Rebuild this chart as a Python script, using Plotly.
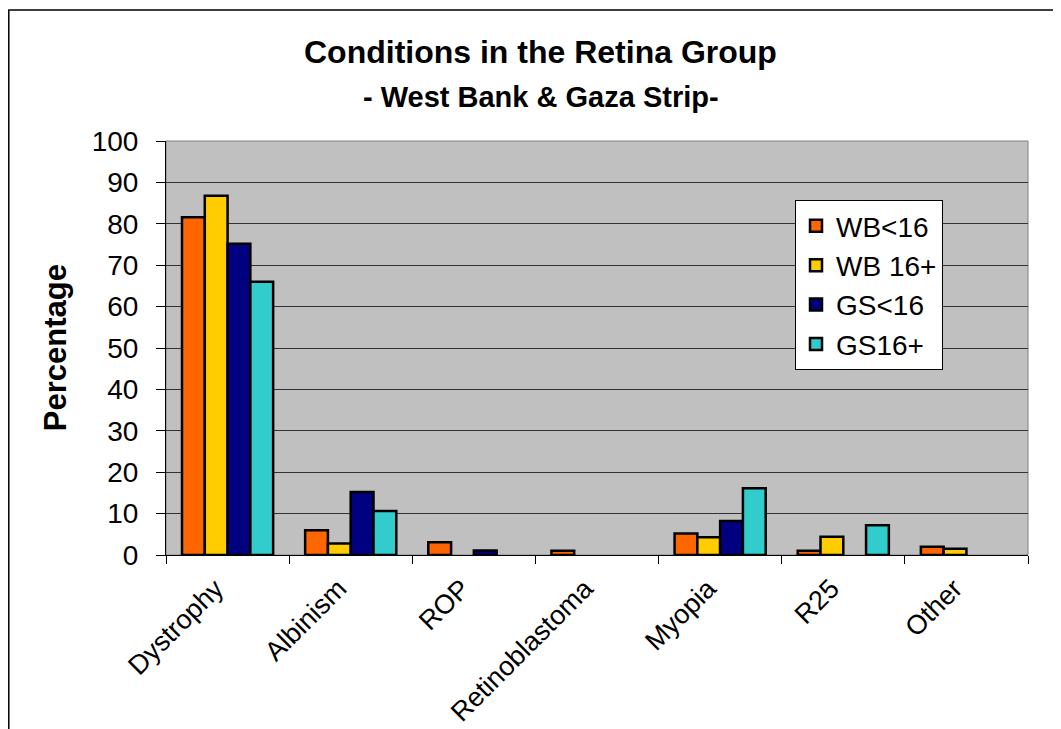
import plotly.graph_objects as go

categories = ["Dystrophy", "Albinism", "ROP", "Retinoblastoma", "Myopia", "R25", "Other"]
series_names = ["WB<16", "WB 16+", "GS<16", "GS16+"]
wb_u16 = [81.6, 6.0, 3.1, 1.0, 5.2, 1.0, 2.0]
wb_16p = [86.8, 2.8, None, None, 4.3, 4.4, 1.5]
gs_u16 = [75.2, 15.2, 1.1, None, 8.2, None, None]
gs_16p = [66.0, 10.6, None, None, 16.1, 7.2, None]
colors = ["#FF6600", "#FFCC00", "#000080", "#33CCCC"]
y_ticks = list(range(0, 101, 10))

FONT = "Arial, Liberation Sans, sans-serif"

W, H = 1053, 721
L, T = 158, 133
R = W - (1028 - 8)
B = H - (554.7 - 8)
PH = H - T - B
PW = W - L - R

def px_to_paper_x(sx):
    return (sx - 8 - L) / PW

def px_to_paper_y(sy):
    return (H - B - (sy - 8)) / PH

fig = go.Figure()
for name, vals, col in zip(series_names, [wb_u16, wb_16p, gs_u16, gs_16p], colors):
    fig.add_trace(go.Bar(
        name=name, x=categories, y=vals,
        marker=dict(color=col, line=dict(color="black", width=2.5)),
    ))

fig.update_layout(
    width=W, height=H,
    margin=dict(l=L, r=R, t=T, b=B, pad=0, autoexpand=False),
    paper_bgcolor="white",
    plot_bgcolor="#C0C0C0",
    barmode="group",
    bargap=0.26,
    bargroupgap=0,
    font=dict(family=FONT, color="black"),
    xaxis=dict(
        automargin=False,
        tickangle=-45,
        tickfont=dict(size=27, family=FONT),
        ticks="outside", ticklen=8, tickcolor="black",
        tickson="boundaries",
        ticklabelstandoff=6,
        ticklabelshift=-12,
        showline=True, linecolor="black", linewidth=1,
        showgrid=False,
    ),
    yaxis=dict(
        automargin=False,
        range=[0, 100],
        tickvals=y_ticks,
        tickfont=dict(size=28, family=FONT),
        ticks="outside", ticklen=9, tickcolor="black",
        ticklabelstandoff=12,
        showline=True, linecolor="black", linewidth=1,
        showgrid=True, gridcolor="#333333", gridwidth=1,
        zeroline=False,
    ),
    legend=dict(
        x=px_to_paper_x(795), y=px_to_paper_y(200), xanchor="left", yanchor="top",
        bgcolor="white", bordercolor="black", borderwidth=1,
        font=dict(size=28, family=FONT),
        tracegroupgap=2,
        itemwidth=30,
    ),
    annotations=[
        dict(text="<b>Conditions in the Retina Group</b>", xref="paper", yref="paper",
             x=px_to_paper_x(540), y=px_to_paper_y(52), xanchor="center", yanchor="middle",
             showarrow=False, font=dict(size=32, family=FONT, color="black")),
        dict(text="<b>- West Bank &amp; Gaza Strip-</b>", xref="paper", yref="paper",
             x=px_to_paper_x(541), y=px_to_paper_y(97), xanchor="center", yanchor="middle",
             showarrow=False, font=dict(size=29, family=FONT, color="black")),
        dict(text="<b>Percentage</b>", xref="paper", yref="paper", textangle=-90,
             x=px_to_paper_x(55), y=px_to_paper_y(348), xanchor="center", yanchor="middle",
             showarrow=False, font=dict(size=31, family=FONT, color="black")),
    ],
    shapes=[
        dict(type="rect", xref="paper", yref="paper",
             x0=0, x1=1, y0=0, y1=1,
             line=dict(color="#808080", width=1), layer="below"),
        dict(type="rect", xref="paper", yref="paper",
             x0=px_to_paper_x(8.8), x1=px_to_paper_x(1100),
             y0=px_to_paper_y(800), y1=px_to_paper_y(10),
             line=dict(color="black", width=1.5), layer="above"),
    ],
)

fig.write_html("out.html")
